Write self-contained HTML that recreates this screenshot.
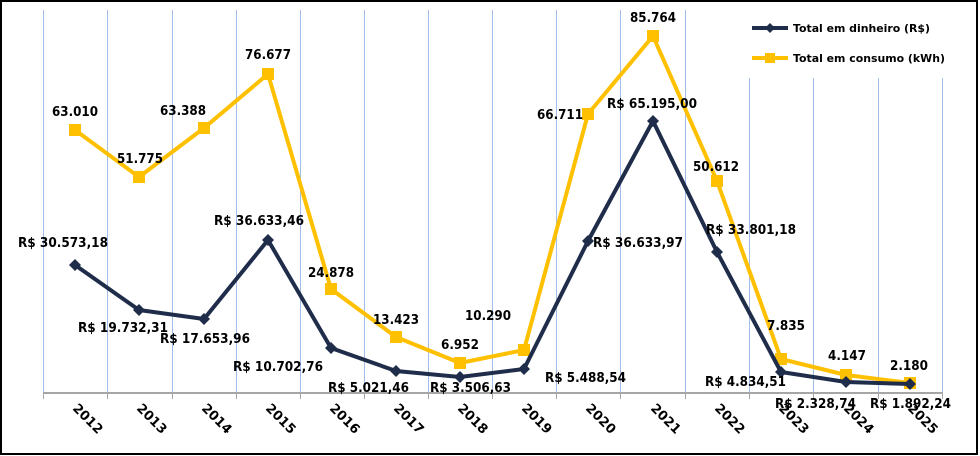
<!DOCTYPE html>
<html><head><meta charset="utf-8"><style>
html,body{margin:0;padding:0;background:#fff;}
svg{display:block;}
text{font-family:"DejaVu Sans","Liberation Sans",sans-serif;font-weight:bold;font-size:13px;fill:#000;}
</style></head><body>
<svg width="980" height="456" viewBox="0 0 980 456">
<rect x="1" y="1" width="976" height="453" fill="#fff" stroke="#000" stroke-width="2"/>
<g stroke="#9fbde6" stroke-width="1">
<line x1="43.5" y1="10" x2="43.5" y2="393"/><line x1="107.5" y1="10" x2="107.5" y2="393"/>
<line x1="172.5" y1="10" x2="172.5" y2="393"/><line x1="236.5" y1="10" x2="236.5" y2="393"/>
<line x1="300.5" y1="10" x2="300.5" y2="393"/><line x1="364.5" y1="10" x2="364.5" y2="393"/>
<line x1="428.5" y1="10" x2="428.5" y2="393"/><line x1="492.5" y1="10" x2="492.5" y2="393"/>
<line x1="556.5" y1="10" x2="556.5" y2="393"/><line x1="620.5" y1="10" x2="620.5" y2="393"/>
<line x1="685.5" y1="10" x2="685.5" y2="393"/><line x1="749.5" y1="78" x2="749.5" y2="393"/>
<line x1="813.5" y1="78" x2="813.5" y2="393"/><line x1="878.5" y1="78" x2="878.5" y2="393"/>
<line x1="942.5" y1="78" x2="942.5" y2="393"/>
</g>
<line x1="43" y1="393" x2="943" y2="393" stroke="#a6a6a6" stroke-width="2"/>
<g stroke="#a6a6a6" stroke-width="1">
<line x1="43.5" y1="393" x2="43.5" y2="399"/><line x1="107.5" y1="393" x2="107.5" y2="399"/>
<line x1="172.5" y1="393" x2="172.5" y2="399"/><line x1="236.5" y1="393" x2="236.5" y2="399"/>
<line x1="300.5" y1="393" x2="300.5" y2="399"/><line x1="364.5" y1="393" x2="364.5" y2="399"/>
<line x1="428.5" y1="393" x2="428.5" y2="399"/><line x1="492.5" y1="393" x2="492.5" y2="399"/>
<line x1="556.5" y1="393" x2="556.5" y2="399"/><line x1="620.5" y1="393" x2="620.5" y2="399"/>
<line x1="685.5" y1="393" x2="685.5" y2="399"/><line x1="749.5" y1="393" x2="749.5" y2="399"/>
<line x1="813.5" y1="393" x2="813.5" y2="399"/><line x1="878.5" y1="393" x2="878.5" y2="399"/>
<line x1="942.5" y1="393" x2="942.5" y2="399"/>
</g>
<polyline fill="none" stroke="#ffc000" stroke-width="4" stroke-linejoin="round" points="75,130 139,177 204,128 268,74 331,289 396,337 460,363 524,350 588,114 653,36 717,181 781,359 846,375 910,383"/>
<g fill="#ffc000">
<rect x="69" y="124" width="12" height="12"/><rect x="133" y="171" width="12" height="12"/><rect x="198" y="122" width="12" height="12"/><rect x="262" y="68" width="12" height="12"/><rect x="325" y="283" width="12" height="12"/><rect x="390" y="331" width="12" height="12"/><rect x="454" y="357" width="12" height="12"/><rect x="518" y="344" width="12" height="12"/><rect x="582" y="108" width="12" height="12"/><rect x="647" y="30" width="12" height="12"/><rect x="711" y="175" width="12" height="12"/><rect x="775" y="353" width="12" height="12"/><rect x="840" y="369" width="12" height="12"/><rect x="904" y="377" width="12" height="12"/>
</g>
<polyline fill="none" stroke="#1f2d4a" stroke-width="4" stroke-linejoin="round" points="75,265 139,310 204,319 268,240 331,348 396,371 460,377 524,369 588,241 653,121 717,252 781,372 846,382 910,384"/>
<g fill="#1f2d4a">
<path d="M75 259l6 6-6 6-6-6z"/><path d="M139 304l6 6-6 6-6-6z"/><path d="M204 313l6 6-6 6-6-6z"/><path d="M268 234l6 6-6 6-6-6z"/><path d="M331 342l6 6-6 6-6-6z"/><path d="M396 365l6 6-6 6-6-6z"/><path d="M460 371l6 6-6 6-6-6z"/><path d="M524 363l6 6-6 6-6-6z"/><path d="M588 235l6 6-6 6-6-6z"/><path d="M653 115l6 6-6 6-6-6z"/><path d="M717 246l6 6-6 6-6-6z"/><path d="M781 366l6 6-6 6-6-6z"/><path d="M846 376l6 6-6 6-6-6z"/><path d="M910 378l6 6-6 6-6-6z"/>
</g>
<g style="font-size:14px">
<text x="18" y="247" textLength="90" lengthAdjust="spacingAndGlyphs">R$ 30.573,18</text>
<text x="78" y="332" textLength="90" lengthAdjust="spacingAndGlyphs">R$ 19.732,31</text>
<text x="160" y="343" textLength="90" lengthAdjust="spacingAndGlyphs">R$ 17.653,96</text>
<text x="214" y="225" textLength="90" lengthAdjust="spacingAndGlyphs">R$ 36.633,46</text>
<text x="233" y="371" textLength="90" lengthAdjust="spacingAndGlyphs">R$ 10.702,76</text>
<text x="328" y="392" textLength="81" lengthAdjust="spacingAndGlyphs">R$ 5.021,46</text>
<text x="430" y="392" textLength="81" lengthAdjust="spacingAndGlyphs">R$ 3.506,63</text>
<text x="545" y="382" textLength="81" lengthAdjust="spacingAndGlyphs">R$ 5.488,54</text>
<text x="593" y="247" textLength="90" lengthAdjust="spacingAndGlyphs">R$ 36.633,97</text>
<text x="607" y="108" textLength="90" lengthAdjust="spacingAndGlyphs">R$ 65.195,00</text>
<text x="706" y="234" textLength="90" lengthAdjust="spacingAndGlyphs">R$ 33.801,18</text>
<text x="705" y="386" textLength="81" lengthAdjust="spacingAndGlyphs">R$ 4.834,51</text>
<text x="775" y="408" textLength="81" lengthAdjust="spacingAndGlyphs">R$ 2.328,74</text>
<text x="870" y="408" textLength="81" lengthAdjust="spacingAndGlyphs">R$ 1.892,24</text>
<text x="52" y="116" textLength="46" lengthAdjust="spacingAndGlyphs">63.010</text>
<text x="117" y="163" textLength="46" lengthAdjust="spacingAndGlyphs">51.775</text>
<text x="160" y="115" textLength="46" lengthAdjust="spacingAndGlyphs">63.388</text>
<text x="245" y="59" textLength="46" lengthAdjust="spacingAndGlyphs">76.677</text>
<text x="308" y="277" textLength="46" lengthAdjust="spacingAndGlyphs">24.878</text>
<text x="373" y="324" textLength="46" lengthAdjust="spacingAndGlyphs">13.423</text>
<text x="441" y="349" textLength="38" lengthAdjust="spacingAndGlyphs">6.952</text>
<text x="465" y="320" textLength="46" lengthAdjust="spacingAndGlyphs">10.290</text>
<text x="537" y="119" textLength="46" lengthAdjust="spacingAndGlyphs">66.711</text>
<text x="630" y="22" textLength="46" lengthAdjust="spacingAndGlyphs">85.764</text>
<text x="693" y="171" textLength="46" lengthAdjust="spacingAndGlyphs">50.612</text>
<text x="767" y="330" textLength="38" lengthAdjust="spacingAndGlyphs">7.835</text>
<text x="828" y="360" textLength="38" lengthAdjust="spacingAndGlyphs">4.147</text>
<text x="890" y="370" textLength="38" lengthAdjust="spacingAndGlyphs">2.180</text>
</g>
<g style="font-size:12px">
<text transform="translate(72,409) rotate(45)">2012</text><text transform="translate(136,409) rotate(45)">2013</text><text transform="translate(201,409) rotate(45)">2014</text><text transform="translate(265,409) rotate(45)">2015</text><text transform="translate(329,409) rotate(45)">2016</text><text transform="translate(393,409) rotate(45)">2017</text><text transform="translate(457,409) rotate(45)">2018</text><text transform="translate(521,409) rotate(45)">2019</text><text transform="translate(585,409) rotate(45)">2020</text><text transform="translate(650,409) rotate(45)">2021</text><text transform="translate(714,409) rotate(45)">2022</text><text transform="translate(778,409) rotate(45)">2023</text><text transform="translate(843,409) rotate(45)">2024</text><text transform="translate(907,409) rotate(45)">2025</text>
</g>
<line x1="752" y1="28" x2="788" y2="28" stroke="#1f2d4a" stroke-width="4"/>
<path d="M770 23l5 5-5 5-5-5z" fill="#1f2d4a"/>
<text x="793" y="32" style="font-size:11px" textLength="137" lengthAdjust="spacingAndGlyphs">Total em dinheiro (R$)</text>
<line x1="752" y1="58" x2="788" y2="58" stroke="#ffc000" stroke-width="4"/>
<rect x="765" y="53" width="10" height="10" fill="#ffc000"/>
<text x="793" y="62" style="font-size:11px" textLength="152" lengthAdjust="spacingAndGlyphs">Total em consumo (kWh)</text>
</svg>
</body></html>
